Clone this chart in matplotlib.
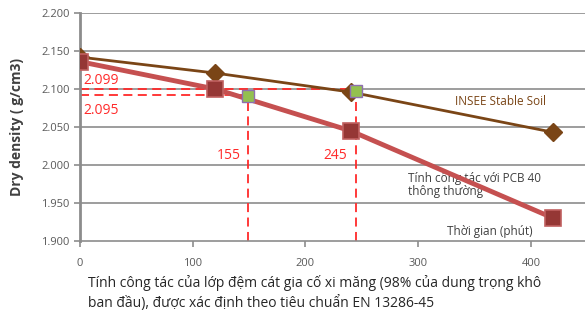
import matplotlib
matplotlib.use("Agg")
import matplotlib.pyplot as plt

# data
time_min = [0, 120, 240, 420]
insee_density = [2.142, 2.121, 2.096, 2.043]
pcb40_density = [2.136, 2.100, 2.045, 1.930]
marker_x = [149, 245]
marker_y = [2.091, 2.098]
ref_levels = [2.100, 2.092]
ref_times = [149, 245]
ref_labels_y = ["2.099", "2.095"]
ref_labels_x = ["155", "245"]
yticks = [1.900, 1.950, 2.000, 2.050, 2.100, 2.150, 2.200]
xticks = [0, 100, 200, 300, 400]

plt.rcParams['font.family'] = ['Open Sans', 'DejaVu Sans']

fig = plt.figure(figsize=(5.85, 3.14), dpi=100)
ax = fig.add_axes([0.1368, 0.2325, 0.8632, 0.726])

grey = "#8c8c8c"
red_dash = "#ff2a2a"

for y in yticks[1:]:
    ax.axhline(y, color=grey, lw=1.2, zorder=0)

# dashed reference lines
dash = dict(ls=(0, (5, 3)), color=red_dash, lw=1.3, zorder=1)
ax.plot([0, ref_times[1]], [ref_levels[0]] * 2, **dash)
ax.plot([0, ref_times[0]], [ref_levels[1]] * 2, **dash)
ax.plot([ref_times[0]] * 2, [1.900, ref_levels[1]], **dash)
ax.plot([ref_times[1]] * 2, [1.900, ref_levels[0]], **dash)

ax.plot(time_min, insee_density, color="#7a4516", lw=2, marker="D", ms=9,
        mfc="#7a4516", mec="#7a4516", zorder=3)
ax.plot(time_min, pcb40_density, color="#c55050", lw=3.5, marker="s", ms=12,
        mfc="#953735", mec="#c06060", mew=1.2, zorder=4)
ax.plot(marker_x, marker_y, ls="none", marker="s", ms=9, mfc="#93c04f",
        mec="#8e6fb0", mew=1, zorder=5)

ax.text(3, 2.101, ref_labels_y[0], color=red_dash, fontsize=10, va="bottom")
ax.text(3, 2.082, ref_labels_y[1], color=red_dash, fontsize=10, va="top")
ax.text(ref_times[0] - 6, 2.013, ref_labels_x[0], color=red_dash, fontsize=10, ha="right", va="center")
ax.text(ref_times[1] - 8, 2.013, ref_labels_x[1], color=red_dash, fontsize=10, ha="right", va="center")

ax.text(333, 2.084, "INSEE Stable Soil", color="#7a4516", fontsize=8.5, va="center")
ax.text(291, 1.974, "Tính công tác với PCB 40\nthông thường", color="#404040",
        fontsize=8.5, va="center", linespacing=1.0)
ax.text(326, 1.913, "Thời gian (phút)", color="#404040", fontsize=8.5, va="center")

ax.set_xlim(0, 448)
ax.set_ylim(1.900, 2.200)
ax.set_xticks(xticks)
ax.set_yticks(yticks)
ax.set_yticklabels(["%.3f" % v for v in yticks])
ax.tick_params(axis="both", colors=grey, labelcolor="#595959", labelsize=8, length=4, width=1.2)
ax.tick_params(axis="x", pad=8)
for s in ["top", "right"]:
    ax.spines[s].set_visible(False)
ax.spines["left"].set_color(grey)
ax.spines["left"].set_linewidth(2)
ax.spines["bottom"].set_color(grey)
ax.spines["bottom"].set_linewidth(1.2)

ax.set_ylabel("Dry density ( g/cm3)", fontsize=10, fontweight="bold", color="#404040", labelpad=12)
fig.text(0.15, 0.01, "Tính công tác của lớp đệm cát gia cố xi măng (98% của dung trọng khô\n"
         "ban đầu), được xác định theo tiêu chuẩn EN 13286-45",
         fontsize=10, color="#262626", ha="left", va="bottom", linespacing=1.3)

fig.savefig("out.png", dpi=100)
